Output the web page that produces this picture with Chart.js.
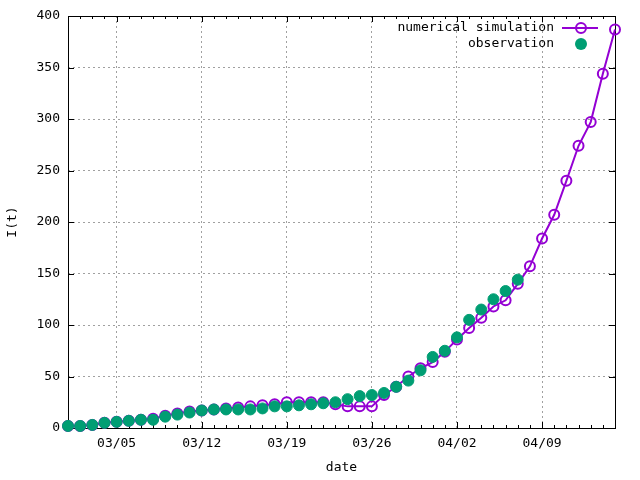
<!DOCTYPE html>
<html>
<head>
<meta charset="utf-8">
<script src="https://cdn.jsdelivr.net/npm/chart.js@4/dist/chart.umd.min.js"></script>
<style>
  html, body { margin: 0; padding: 0; background: #fff; }
</style>
</head>
<body>
<canvas id="chart" width="640" height="480"></canvas>
<script>
// day index 0 = 03/01, one value per day
const simulation = [2, 2, 3, 5, 6, 7, 8, 9, 12, 14, 16, 17, 18, 19, 20, 21,
  22, 23, 25, 25, 25, 25, 23, 21, 21, 21, 32, 40, 50, 58, 64, 74, 86, 97,
  107, 118, 124, 140, 157, 184, 207, 240, 274, 297, 344, 387];
const observation = [2, 2, 3, 5, 6, 7, 8, 8, 11, 13, 15, 17, 18, 18, 18, 18,
  19, 21, 21, 22, 23, 24, 25, 28, 31, 32, 34, 40, 46, 56, 69, 75, 88, 105,
  115, 125, 133, 144];

const tickDays = [4, 11, 18, 25, 32, 39];
const tickLabels = ['03/05', '03/12', '03/19', '03/26', '04/02', '04/09'];
const lastDay = 45;

const FONT = { family: 'DejaVu Sans Mono', size: 13 };
const PURPLE = '#9400d3';
const GREEN = '#009e73';
const GRID = '#a0a0a0';

// ── Frame + inward gnuplot-style ticks ────────────────────────────────────────
const frameTicks = {
  id: 'frameTicks',
  beforeDatasetsDraw(chart) {
    const { ctx, chartArea: a, scales: { x, y } } = chart;
    ctx.save();
    ctx.strokeStyle = '#000';
    ctx.lineWidth = 1;
    ctx.beginPath();
    for (let d = 0; d <= lastDay; d++) {
      const px = Math.round(x.getPixelForValue(d)) + 0.5;
      const len = tickDays.includes(d) ? 6 : 3;
      ctx.moveTo(px, a.bottom); ctx.lineTo(px, a.bottom - len);
      ctx.moveTo(px, a.top); ctx.lineTo(px, a.top + len);
    }
    y.ticks.forEach(t => {
      const py = Math.round(y.getPixelForValue(t.value)) + 0.5;
      ctx.moveTo(a.left, py); ctx.lineTo(a.left + 6, py);
      ctx.moveTo(a.right, py); ctx.lineTo(a.right - 6, py);
    });
    ctx.stroke();
    ctx.strokeRect(Math.round(a.left) + 0.5, Math.round(a.top) + 0.5,
      Math.round(a.right - a.left), Math.round(a.bottom - a.top));
    ctx.restore();
  }
};

// ── Key: text on the left, sample on the right ────────────────────────────────
const keyLegend = {
  id: 'keyLegend',
  afterDatasetsDraw(chart) {
    const { ctx, chartArea: a } = chart;
    const textRight = a.right - 61;
    const symX = a.right - 34;
    ctx.save();
    ctx.font = `${FONT.size}px "${FONT.family}"`;
    ctx.fillStyle = '#000';
    ctx.textAlign = 'right';
    ctx.textBaseline = 'middle';

    const y1 = a.top + 12;
    ctx.fillText('numerical simulation', textRight, y1);
    ctx.strokeStyle = PURPLE;
    ctx.lineWidth = 2;
    ctx.beginPath();
    ctx.moveTo(a.right - 53, y1); ctx.lineTo(a.right - 17, y1);
    ctx.stroke();
    ctx.fillStyle = '#fff';
    ctx.beginPath();
    ctx.arc(symX, y1, 5, 0, Math.PI * 2);
    ctx.stroke();

    const y2 = a.top + 28;
    ctx.fillStyle = '#000';
    ctx.fillText('observation', textRight, y2);
    ctx.fillStyle = GREEN;
    ctx.beginPath();
    ctx.arc(symX, y2, 6, 0, Math.PI * 2);
    ctx.fill();
    ctx.restore();
  }
};

new Chart(document.getElementById('chart'), {
  type: 'line',
  data: {
    datasets: [
      {
        label: 'observation',
        data: observation.map((v, i) => ({ x: i, y: v })),
        showLine: false,
        pointRadius: 5.5,
        pointBackgroundColor: GREEN,
        pointBorderColor: GREEN,
        pointBorderWidth: 1,
        clip: false,
        order: 0
      },
      {
        label: 'numerical simulation',
        data: simulation.map((v, i) => ({ x: i, y: v })),
        borderColor: PURPLE,
        borderWidth: 2,
        tension: 0,
        pointRadius: 5,
        pointBackgroundColor: 'rgba(0,0,0,0)',
        pointBorderColor: PURPLE,
        pointBorderWidth: 2,
        clip: false,
        order: 1
      }
    ]
  },
  options: {
    responsive: false,
    animation: false,
    events: [],
    layout: { padding: { top: 16, right: 25, bottom: 0, left: 0 } },
    plugins: { legend: { display: false }, tooltip: { enabled: false } },
    scales: {
      x: {
        type: 'linear',
        min: 0,
        max: lastDay,
        afterFit(s) { s.height = 52; },
        afterBuildTicks(s) { s.ticks = tickDays.map(v => ({ value: v })); },
        ticks: {
          autoSkip: false,
          maxRotation: 0,
          padding: 8,
          color: '#000',
          font: FONT,
          callback: v => tickLabels[tickDays.indexOf(v)]
        },
        grid: { color: GRID, drawTicks: false, borderDash: [2, 3] },
        border: { display: false, dash: [2, 3] },
        title: { display: true, text: 'date', color: '#000', font: FONT, padding: { top: 0, bottom: 5 } }
      },
      y: {
        min: 0,
        max: 400,
        afterFit(s) { s.width = 68; },
        ticks: { stepSize: 50, padding: 8, color: '#000', font: FONT },
        grid: {
          color: c => (c.tick && c.tick.value > 0 && c.tick.value < 400) ? GRID : 'rgba(0,0,0,0)',
          drawTicks: false,
          borderDash: [2, 3]
        },
        border: { display: false, dash: [2, 3] },
        title: { display: true, text: 'I(t)', color: '#000', font: FONT, padding: { top: 5, bottom: 0 } }
      }
    }
  },
  plugins: [frameTicks, keyLegend]
});
</script>
</body>
</html>
